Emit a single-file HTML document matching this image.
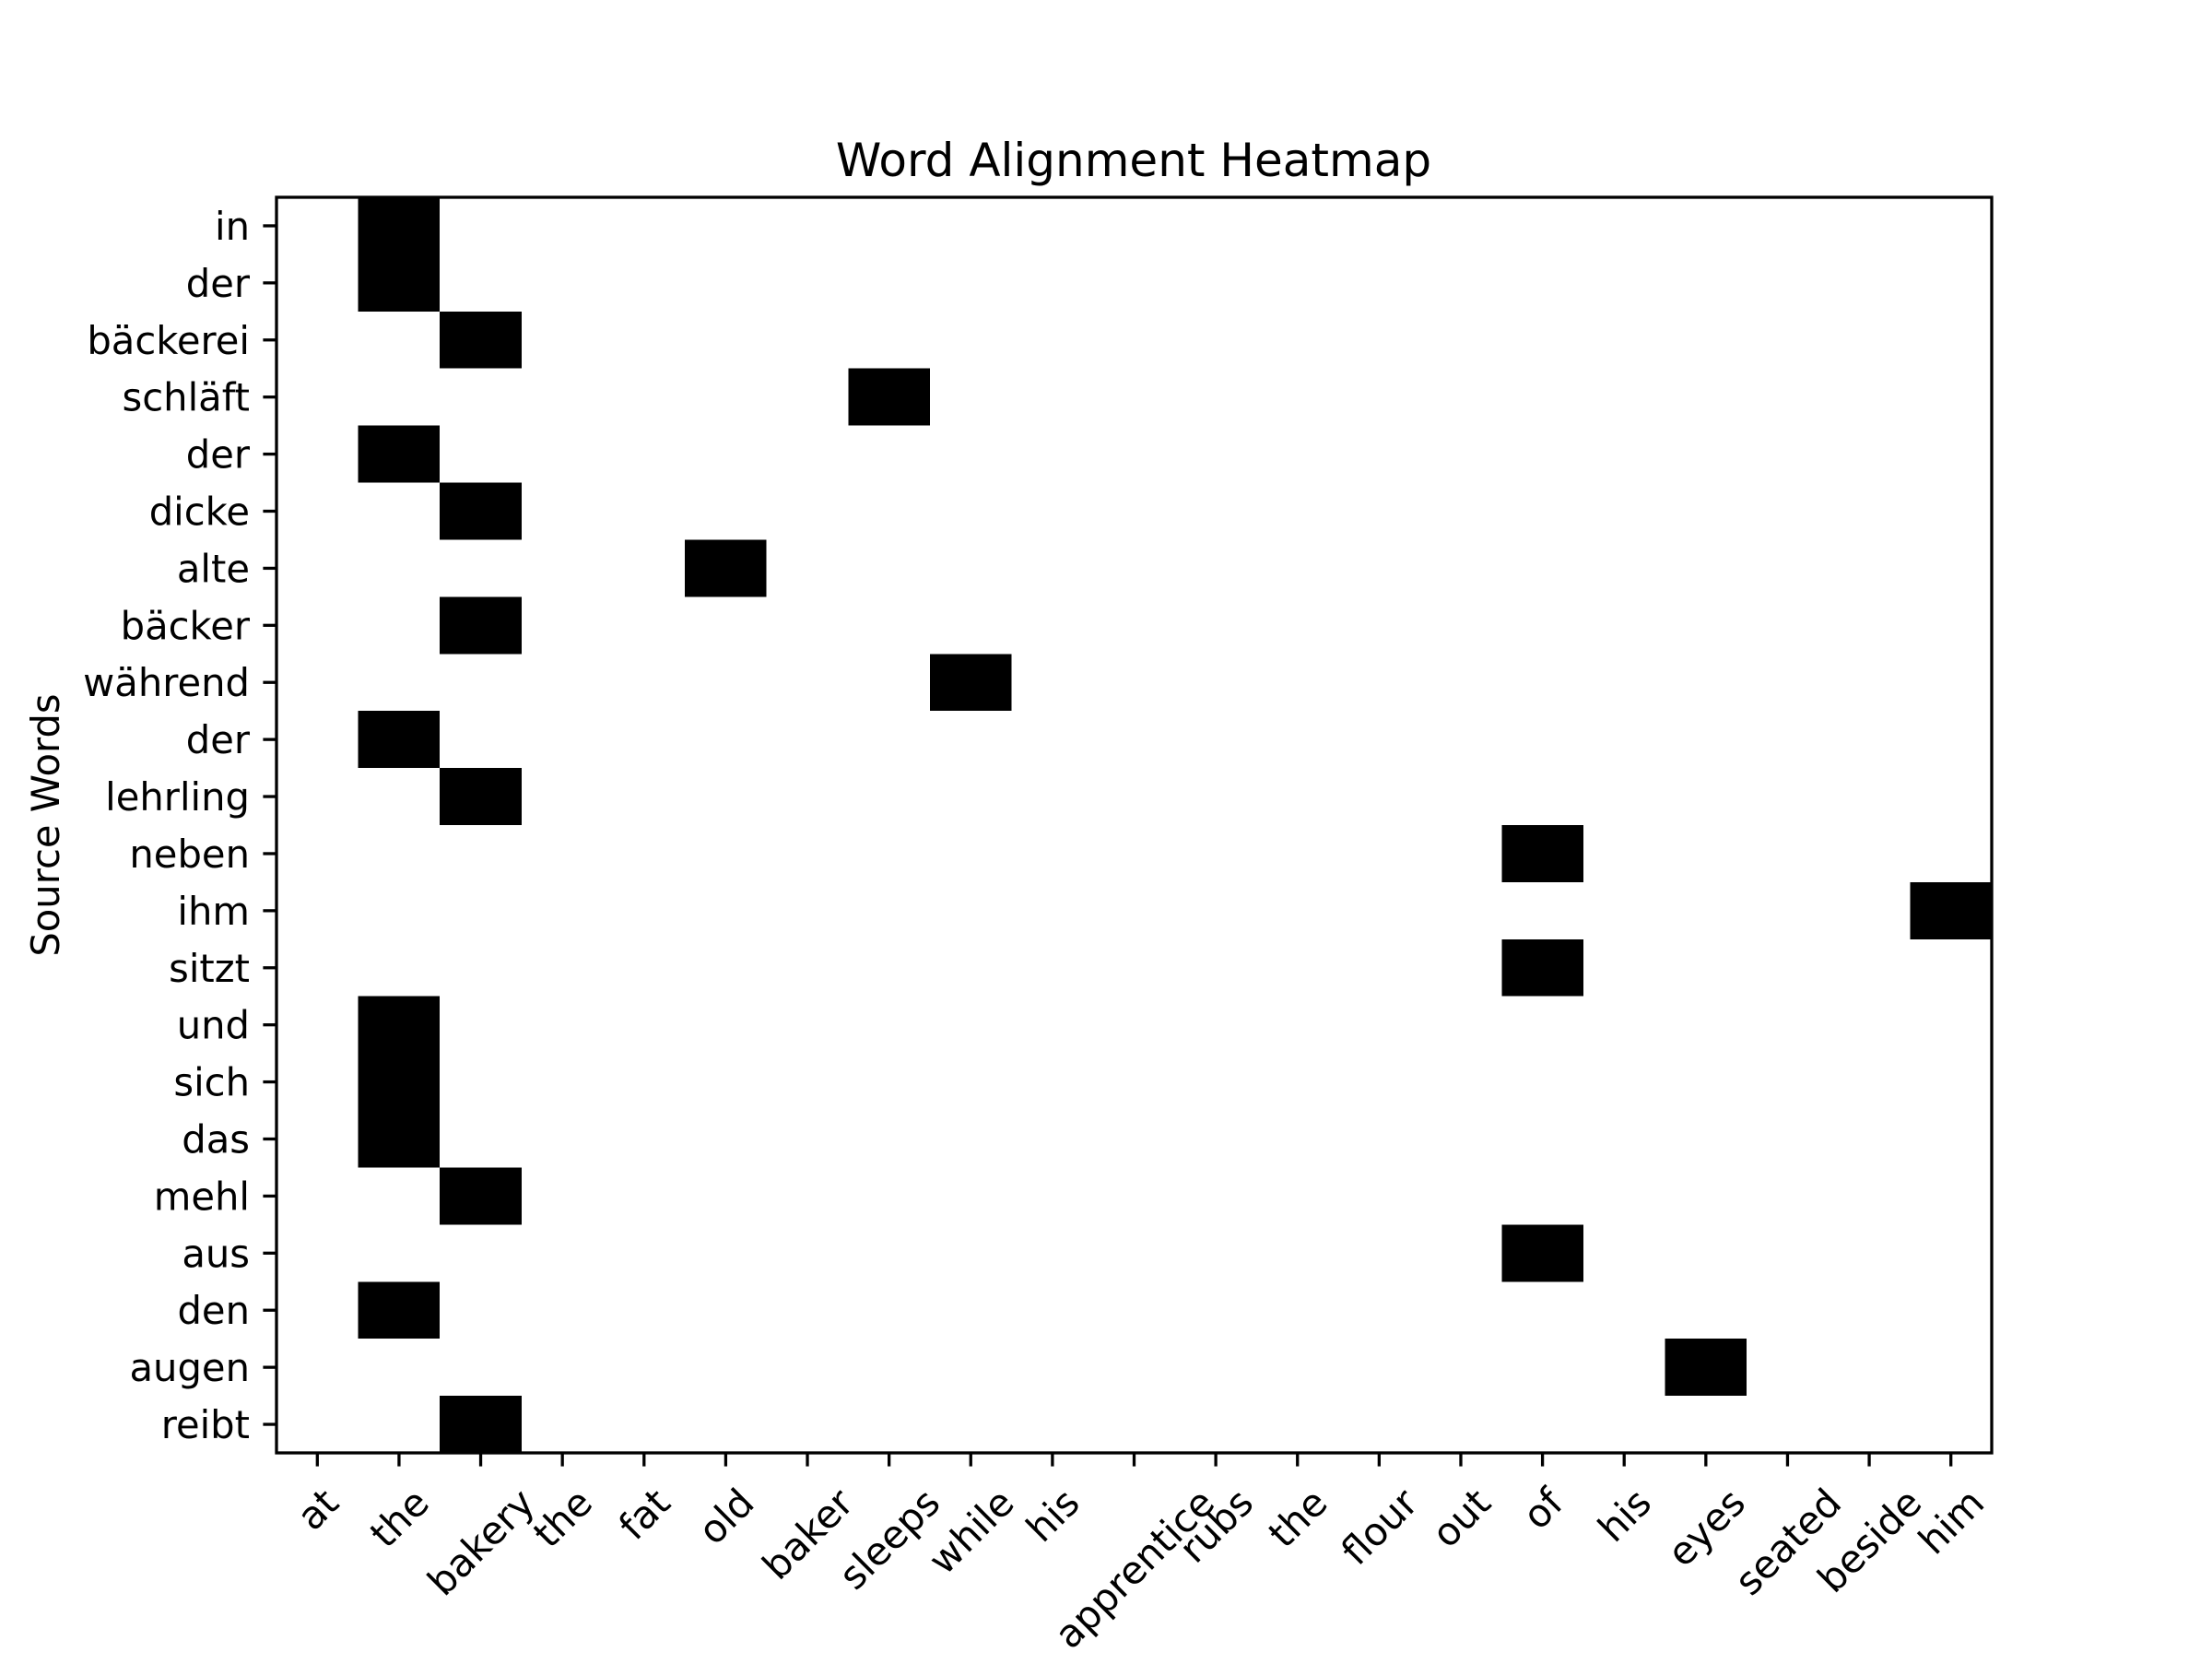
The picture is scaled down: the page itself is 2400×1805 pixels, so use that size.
<!DOCTYPE html>
<html><head><meta charset="utf-8"><style>
html,body{margin:0;padding:0;background:#fff;}
svg text{font-family:"DejaVu Sans","Liberation Sans",sans-serif;fill:#000;}
</style></head><body>
<svg id="chart" width="2400" height="1800" xmlns="http://www.w3.org/2000/svg">
<rect x="0" y="0" width="2400" height="1800" fill="#fff"/>
<g id="cells" shape-rendering="crispEdges"></g>
<g id="yticks"></g>
<g id="xticks"></g>
<rect x="300" y="214" width="1861" height="1362" fill="none" stroke="#000" stroke-width="3.3"/>
<text x="1230" y="191" font-size="50" text-anchor="middle">Word Alignment Heatmap</text>
<text x="0" y="0" font-size="41.7" text-anchor="middle" transform="translate(64,895) rotate(-90)">Source Words</text>
</svg>
<script>
const sourceWords = ["in","der","bäckerei","schläft","der","dicke","alte","bäcker","während","der","lehrling","neben","ihm","sitzt","und","sich","das","mehl","aus","den","augen","reibt"];
const targetWords = ["at","the","bakery","the","fat","old","baker","sleeps","while","his","apprentice","rubs","the","flour","out","of","his","eyes","seated","beside","him"];
const alignedTarget = [1,1,2,7,1,2,5,2,8,1,2,15,20,15,1,1,1,2,15,1,17,2];
const alignValue = [1,1,1,1,1,1,1,1,1,1,1,1,1,1,1,1,1,1,1,1,1,1];

const NS="http://www.w3.org/2000/svg";
const L=300,T=214,W=1861,H=1362;
const cw=W/targetWords.length, ch=H/sourceWords.length;
const xPos=i=>L+cw*(i+0.5);
const yPos=j=>T+ch*(j+0.5);
const cells=document.getElementById('cells');
alignedTarget.forEach((c,r)=>{
  const v=alignValue[r];
  const g=Math.round(255*(1-v));
  const el=document.createElementNS(NS,'rect');
  
  
  el.setAttribute('x',xPos(c)-cw/2);el.setAttribute('y',yPos(r)-ch/2);
  el.setAttribute('width',cw);el.setAttribute('height',ch);
  el.setAttribute('fill',`rgb(${g},${g},${g})`);
  cells.appendChild(el);
});
const yt=document.getElementById('yticks');
sourceWords.forEach((w,j)=>{
  const ln=document.createElementNS(NS,'line');
  
  
  ln.setAttribute('x1',L);ln.setAttribute('x2',L-14.6);
  ln.setAttribute('y1',yPos(j));ln.setAttribute('y2',yPos(j));
  ln.setAttribute('stroke','#000');ln.setAttribute('stroke-width','3.3');
  yt.appendChild(ln);
  const t=document.createElementNS(NS,'text');
  
  
  t.setAttribute('x',L-29);t.setAttribute('y',yPos(j)+15);
  t.setAttribute('font-size','41.7');t.setAttribute('text-anchor','end');
  t.textContent=w;yt.appendChild(t);
});
const xt=document.getElementById('xticks');
targetWords.forEach((w,i)=>{
  const ln=document.createElementNS(NS,'line');
  
  
  ln.setAttribute('x1',xPos(i));ln.setAttribute('x2',xPos(i));
  ln.setAttribute('y1',T+H);ln.setAttribute('y2',T+H+14.6);
  ln.setAttribute('stroke','#000');ln.setAttribute('stroke-width','3.3');
  xt.appendChild(ln);
  const t=document.createElementNS(NS,'text');
  
  
  t.setAttribute('font-size','41.7');t.setAttribute('text-anchor','middle');
  t.setAttribute('x',0);t.setAttribute('y',15);
  t.textContent=w;xt.appendChild(t);
  const tw=t.getComputedTextLength(), th=48;
  const half=(tw+th)/(2*Math.SQRT2);
  const cy=T+H+14.6+14.6+half;
  t.setAttribute('transform',`translate(${xPos(i)},${cy}) rotate(-45)`);
});
</script>
</body></html>
